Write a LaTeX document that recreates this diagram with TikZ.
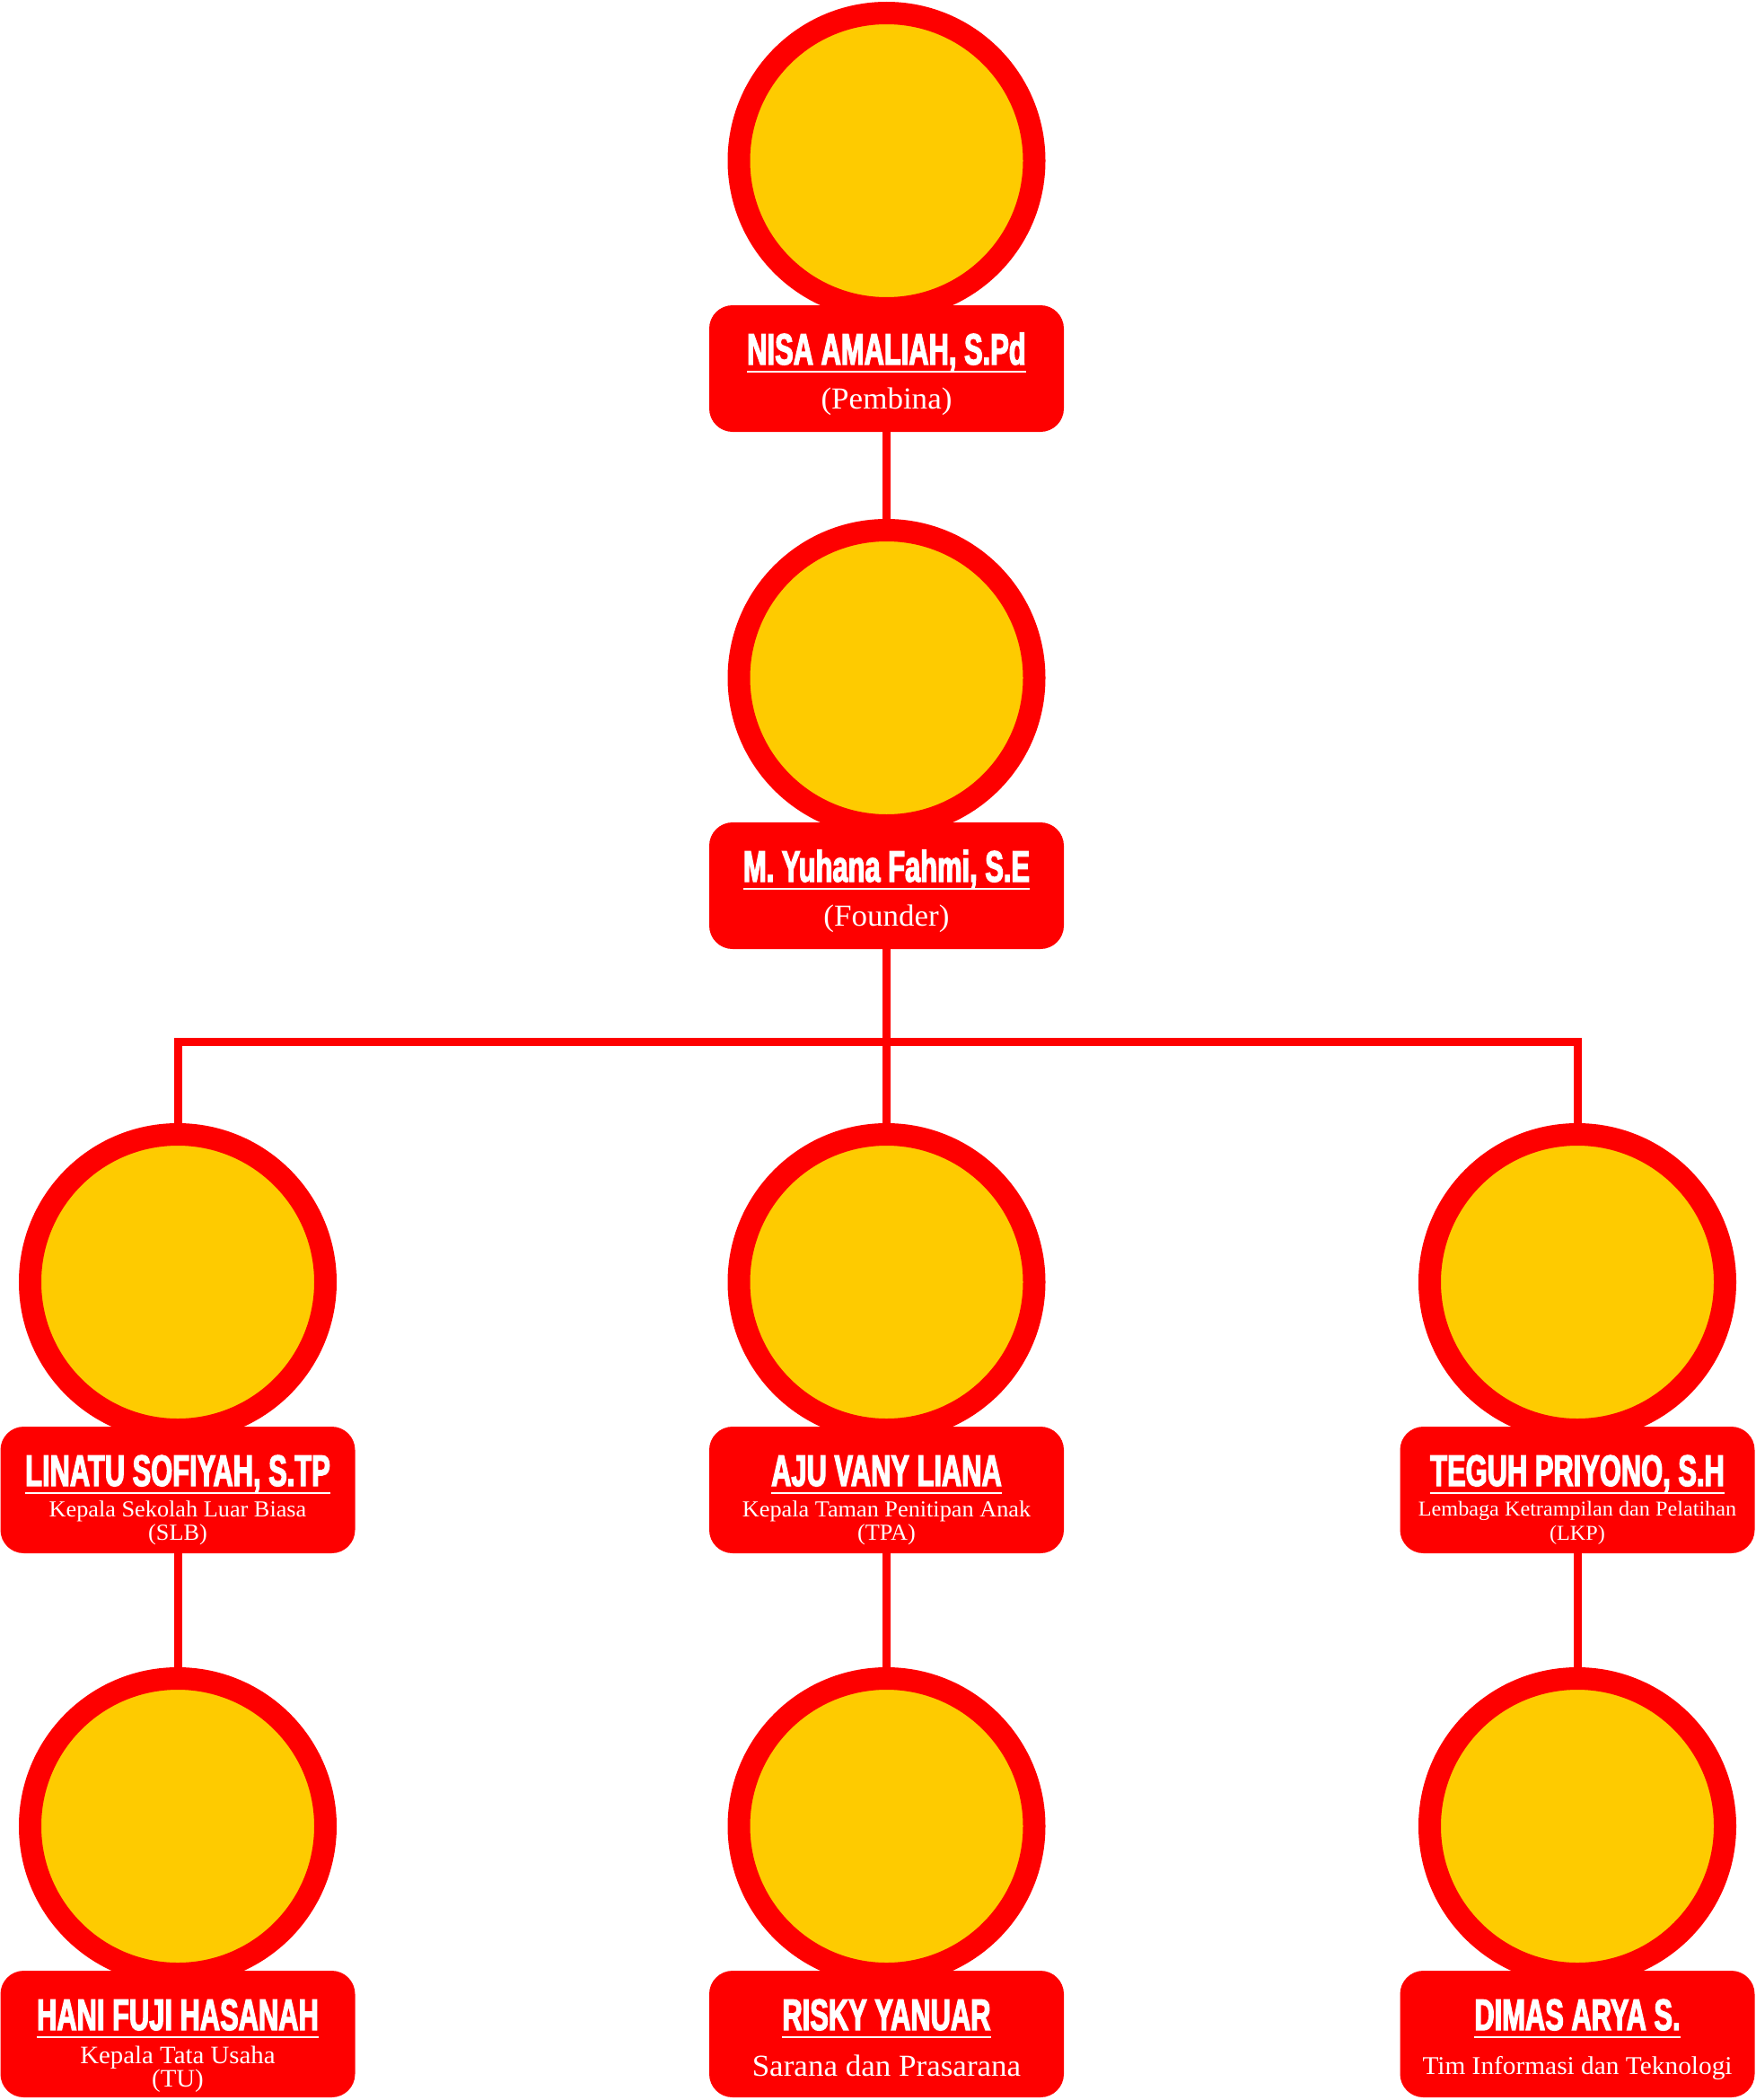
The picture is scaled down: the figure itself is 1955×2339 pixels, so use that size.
\documentclass[tikz,border=0pt]{standalone}
\usepackage{fontspec}
\newfontfamily\namefont[FakeStretch=0.63,FakeBold=2.5]{Liberation Sans}
\newfontfamily\subfont[FakeStretch=1.03]{Liberation Serif}
\definecolor{ringred}{HTML}{FE0000}
\definecolor{gold}{HTML}{FECB00}
\pgfdeclarelayer{bg}
\pgfsetlayers{bg,main}
\tikzset{
  ring/.style={circle, draw=ringred, fill=gold, line width=25pt, minimum size=329pt, inner sep=0pt},
  card/.style={rectangle, rounded corners=26pt, fill=ringred, minimum width=395pt, minimum height=141pt, inner sep=0pt},
  nametext/.style={text=white, inner sep=0pt, anchor=base, font=\namefont\bfseries\fontsize{49}{56}\selectfont},
  subtext/.style={text=white, inner sep=0pt, anchor=base, font=\subfont\fontsize{#1}{#1}\selectfont},
  link/.style={draw=ringred, line width=9pt, line join=miter},
  uline/.style={draw=white, line width=2.5pt}
}
\newcommand\orgunit[4]{%
  \node[ring] (#1c) at (#2,#3) {};
  \node[card] (#1b) at (#2,#3+231.5) {};
  \node[nametext] (#1n) at (#2,#3+227) {#4};
  \draw[uline] ([yshift=-8pt]#1n.base west) -- ([yshift=-8pt]#1n.base east);
}
\begin{document}
\begin{tikzpicture}[x=1pt,y=-1pt]
\useasboundingbox (0,0) rectangle (1955,2339);
% units
\orgunit{p}{987.5}{179}{NISA AMALIAH, S.Pd}
\node[subtext=34] (ps) at (987.5,455) {(Pembina)};
\orgunit{f}{987.5}{755}{M. Yuhana Fahmi, S.E}
\node[subtext=34] (fs) at (987.5,1031) {(Founder)};
\orgunit{a}{198}{1428}{LINATU SOFIYAH, S.TP}
\node[subtext=25.5] (as1) at (198,1689) {Kepala Sekolah Luar Biasa};
\node[subtext=25.5] (as2) at (198,1715) {(SLB)};
\orgunit{b}{987.5}{1428}{AJU VANY LIANA}
\node[subtext=25.5] (bs1) at (987.5,1689) {Kepala Taman Penitipan Anak};
\node[subtext=25.5] (bs2) at (987.5,1715) {(TPA)};
\orgunit{c}{1757}{1428}{TEGUH PRIYONO, S.H}
\node[subtext=23.5] (cs1) at (1757,1688) {Lembaga Ketrampilan dan Pelatihan};
\node[subtext=23.5] (cs2) at (1757,1715) {(LKP)};
\orgunit{d}{198}{2034}{HANI FUJI HASANAH}
\node[subtext=28] (ds1) at (198,2298) {Kepala Tata Usaha};
\node[subtext=28] (ds2) at (198,2324) {(TU)};
\orgunit{e}{987.5}{2034}{RISKY YANUAR}
\node[subtext=34] (es) at (987.5,2312) {Sarana dan Prasarana};
\orgunit{g}{1757}{2034}{DIMAS ARYA S.}
\node[subtext=28.5] (gs) at (1757,2310) {Tim Informasi dan Teknologi};
% connectors
\coordinate (bar) at (987.5,1160);
\begin{pgfonlayer}{bg}
\draw[link] (pb.center) -- (fc.center);
\draw[link] (fb.center) -- (bc.center);
\draw[link] (ac.center) -- (ac.center |- bar) -- (cc.center |- bar) -- (cc.center);
\draw[link] (ab.center) -- (dc.center);
\draw[link] (bb.center) -- (ec.center);
\draw[link] (cb.center) -- (gc.center);
\end{pgfonlayer}
\end{tikzpicture}
\end{document}
